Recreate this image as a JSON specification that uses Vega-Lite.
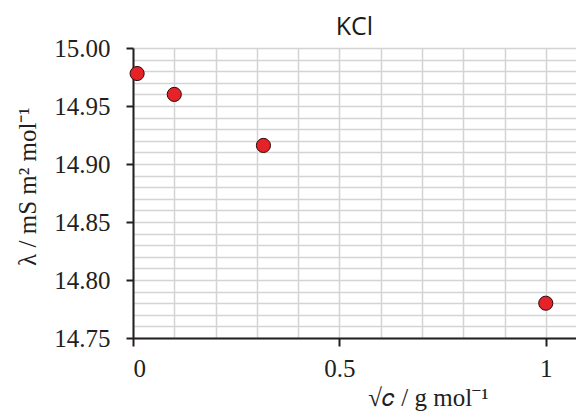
{
  "$schema": "https://vega.github.io/schema/vega-lite/v6.json",
  "width": 443,
  "height": 290,
  "autosize": "none",
  "padding": {"left": 133, "top": 48, "right": 0, "bottom": 74},
  "background": "white",
  "config": {"view": {"stroke": null}},
  "title": {"text": "KCl", "font": "Open Sans", "fontSize": 25, "fontWeight": "normal", "color": "#1a1a1a", "anchor": "middle", "frame": "group", "baseline": "alphabetic", "offset": 12, "dy": 36},
  "data": {"values": [
    {"sqrtc": 0.01, "lambda": 14.978},
    {"sqrtc": 0.1, "lambda": 14.96},
    {"sqrtc": 0.316, "lambda": 14.916},
    {"sqrtc": 1.0, "lambda": 14.78}
  ]},
  "mark": {"type": "circle", "fill": "#e42228", "stroke": "#2b0a0a", "strokeWidth": 1, "size": 200, "opacity": 1},
  "encoding": {
    "x": {
      "field": "sqrtc", "type": "quantitative",
      "scale": {"domain": [0, 1.0732], "nice": false, "zero": false},
      "axis": {
        "values": [0, 0.1, 0.2, 0.3, 0.4, 0.5, 0.6, 0.7, 0.8, 0.9, 1],
        "format": "~g",
        "labelExpr": "(datum.value == 0 || datum.value == 0.5 || datum.value == 1) ? datum.label : ''",
        "labelOverlap": false,
        "labelFont": "Liberation Serif", "labelFontSize": 25, "labelColor": "#231f20", "labelPadding": 10,
        "grid": true, "gridColor": "#d4d4d4", "gridWidth": 1.5,
        "domainColor": "#231f20", "domainWidth": 2,
        "tickColor": "#231f20", "tickWidth": 2, "tickSize": 8,
        "tickOpacity": {"condition": {"test": "datum.value == 0 || datum.value == 0.5 || datum.value == 1", "value": 1}, "value": 0},
        "title": "√𝑐  / g mol⁻¹",
        "titleFont": "Liberation Serif", "titleFontSize": 25, "titleFontWeight": "normal", "titleColor": "#231f20",
        "titleX": 295, "titleY": 67, "titleAlign": "center", "titleBaseline": "alphabetic"
      }
    },
    "y": {
      "field": "lambda", "type": "quantitative",
      "scale": {"domain": [14.75, 15.0], "nice": false, "zero": false},
      "axis": {
        "values": [14.75, 14.76, 14.77, 14.78, 14.79, 14.8, 14.81, 14.82, 14.83, 14.84, 14.85, 14.86, 14.87, 14.88, 14.89, 14.9, 14.91, 14.92, 14.93, 14.94, 14.95, 14.96, 14.97, 14.98, 14.99, 15.0],
        "format": ".2f",
        "labelExpr": "abs(datum.value * 20 - round(datum.value * 20)) < 0.001 ? datum.label : ''",
        "labelOverlap": false,
        "labelFont": "Liberation Serif", "labelFontSize": 25, "labelColor": "#231f20", "labelPadding": 16,
        "grid": true, "gridColor": "#d4d4d4", "gridWidth": 1.5,
        "domainColor": "#231f20", "domainWidth": 2,
        "tickColor": "#231f20", "tickWidth": 2, "tickSize": 7,
        "tickOpacity": {"condition": {"test": "abs(datum.value * 20 - round(datum.value * 20)) < 0.001", "value": 1}, "value": 0},
        "title": "λ / mS m² mol⁻¹",
        "titleFont": "Liberation Serif", "titleFontSize": 25, "titleFontWeight": "normal", "titleColor": "#231f20",
        "titleX": -98, "titleY": 138, "titleAlign": "center", "titleBaseline": "alphabetic", "titleAngle": -90
      }
    }
  }
}
